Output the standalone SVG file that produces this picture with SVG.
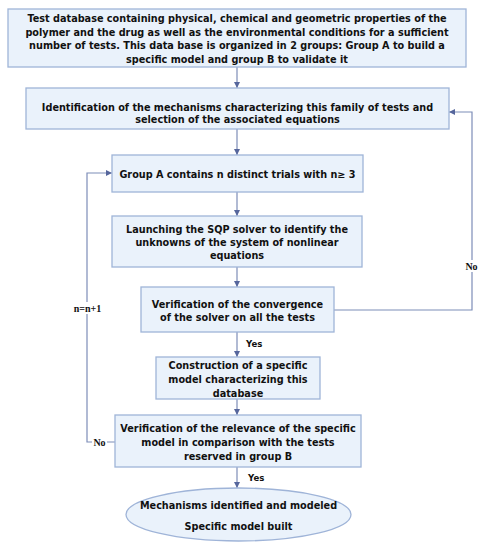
<svg xmlns="http://www.w3.org/2000/svg" width="483" height="550" viewBox="0 0 483 550">
<defs>
<marker id="ah" viewBox="0 0 10 10" refX="10" refY="5" markerWidth="6" markerHeight="6" orient="auto" markerUnits="userSpaceOnUse">
<path d="M0,0 L10,5 L0,10 z" fill="#56669c"/>
</marker>
</defs>
<style>
.box{fill:#eaf2fb;stroke:#9fb4d8;stroke-width:1.3}
.t{font-family:"DejaVu Sans",Verdana,sans-serif;font-weight:bold;font-size:9.7px;fill:#111;text-anchor:middle}
.c{fill:none;stroke:#7d8db8;stroke-width:1.2}
.lbl{font-family:"Liberation Serif","Times New Roman",serif;font-weight:bold;font-size:10px;fill:#111;text-anchor:middle}
.yes{font-family:"DejaVu Sans",Verdana,sans-serif;font-weight:bold;font-size:8.6px;fill:#111}
</style>
<rect width="483" height="550" fill="#fff"/>
<g id="connectors">
<line class="c" x1="237" y1="67" x2="237" y2="88" marker-end="url(#ah)"/>
<line class="c" x1="237" y1="129" x2="237" y2="155" marker-end="url(#ah)"/>
<line class="c" x1="237" y1="192" x2="237" y2="216" marker-end="url(#ah)"/>
<line class="c" x1="237" y1="267" x2="237" y2="287" marker-end="url(#ah)"/>
<line class="c" x1="237" y1="332" x2="237" y2="357" marker-end="url(#ah)"/>
<line class="c" x1="237" y1="399" x2="237" y2="415" marker-end="url(#ah)"/>
<line class="c" x1="237" y1="467" x2="237" y2="488" marker-end="url(#ah)"/>
<polyline class="c" points="334,310 472,310 472,112 449,112" marker-end="url(#ah)"/>
<polyline class="c" points="115,442 87,442 87,173 112,173" marker-end="url(#ah)"/>
<rect x="464" y="260" width="15" height="12" fill="#fff"/>
<text class="lbl" x="471.5" y="269.5">No</text>
<rect x="72" y="302" width="31" height="12" fill="#fff"/>
<text class="lbl" x="87.5" y="311.5">n=n+1</text>
<rect x="92" y="436" width="15" height="12" fill="#fff"/>
<text class="lbl" x="99.5" y="445.5">No</text>
<text class="yes" x="246" y="346.5">Yes</text>
<text class="yes" x="248" y="480.5">Yes</text>
</g>
<g id="n1">
<rect class="box" x="8" y="9" width="458" height="58"/>
<text class="t" x="237" y="21.5">Test database containing physical, chemical and geometric properties of the</text>
<text class="t" x="237" y="35.5">polymer and the drug as well as the environmental conditions for a sufficient</text>
<text class="t" x="237" y="49.3">number of tests. This data base is organized in 2 groups: Group A to build a</text>
<text class="t" x="237" y="63">specific model and group B to validate it</text>
</g>
<g id="n2">
<rect class="box" x="26" y="88" width="423" height="41"/>
<text class="t" x="237.5" y="110.5">Identification of the mechanisms characterizing this family of tests and</text>
<text class="t" x="237.5" y="123">selection of the associated equations</text>
</g>
<g id="n3">
<rect class="box" x="112" y="155" width="251" height="37"/>
<text class="t" x="237.5" y="178">Group A contains n distinct trials with n≥ 3</text>
</g>
<g id="n4">
<rect class="box" x="112" y="216" width="250" height="51"/>
<text class="t" x="237" y="232.5">Launching the SQP solver to identify the</text>
<text class="t" x="237" y="245.5">unknowns of the system of nonlinear</text>
<text class="t" x="237" y="259">equations</text>
</g>
<g id="n5">
<rect class="box" x="141" y="287" width="193" height="45"/>
<text class="t" x="237.5" y="308">Verification of the convergence</text>
<text class="t" x="237.5" y="321.3">of the solver on all the tests</text>
</g>
<g id="n6">
<rect class="box" x="156" y="357" width="164" height="42"/>
<text class="t" x="238" y="369">Construction of a specific</text>
<text class="t" x="238" y="383">model characterizing this</text>
<text class="t" x="238" y="396.5">database</text>
</g>
<g id="n7">
<rect class="box" x="115" y="415" width="246" height="52"/>
<text class="t" x="238" y="432">Verification of the relevance of the specific</text>
<text class="t" x="238" y="446">model in comparison with the tests</text>
<text class="t" x="238" y="459.5">reserved in group B</text>
</g>
<g id="n8">
<ellipse class="box" cx="238.5" cy="514.5" rx="112.5" ry="26.5"/>
<text class="t" x="238.5" y="509">Mechanisms identified and modeled</text>
<text class="t" x="238.5" y="530">Specific model built</text>
</g>
</svg>
